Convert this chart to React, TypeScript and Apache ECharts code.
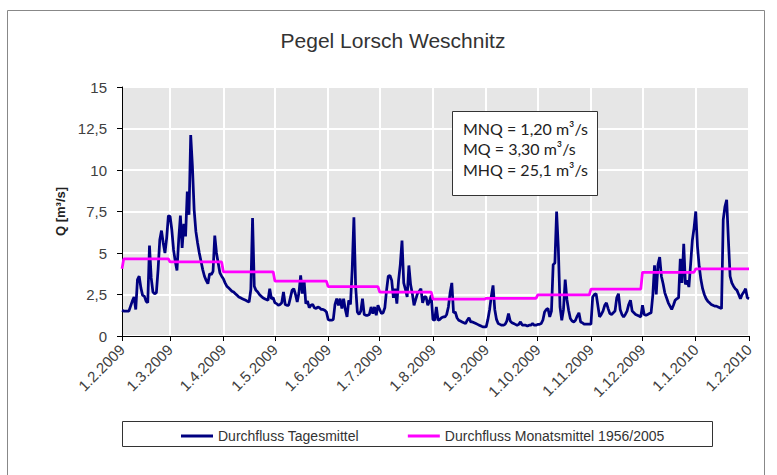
import React, { useEffect, useRef } from "react";
import * as echarts from "echarts";

// Daily discharge (Durchfluss Tagesmittel), m³/s, one value per day
const feb09 = [1.55, 1.5, 1.5, 1.5, 1.5, 1.8, 2.1, 2.35, 1.6, 3.4, 3.6, 2.9, 2.45, 2.4, 2.1, 2.0, 5.45, 3.5, 2.65, 2.55, 2.6, 4.0, 5.8, 6.35, 5.6, 5.0, 5.9, 7.25];
const mar09 = [7.2, 6.4, 5.2, 4.5, 3.95, 5.8, 7.25, 5.3, 6.75, 6.0, 8.7, 7.3, 12.1, 10.2, 7.6, 6.3, 5.6, 5.0, 4.5, 4.0, 3.6, 3.35, 3.15, 3.75, 3.7, 3.9, 6.05, 5.0, 4.4, 3.8, 3.6];
const apr09 = [3.45, 3.2, 3.0, 2.9, 2.8, 2.7, 2.65, 2.55, 2.45, 2.35, 2.3, 2.25, 2.2, 2.15, 2.1, 2.05, 2.8, 7.1, 3.0, 2.75, 2.65, 2.5, 2.4, 2.3, 2.25, 2.2, 2.15, 2.85, 2.25, 2.3];
const may09 = [2.0, 1.95, 1.85, 1.9, 2.0, 2.65, 1.9, 1.85, 1.85, 2.3, 2.75, 2.85, 2.5, 2.05, 2.6, 3.65, 2.55, 3.35, 1.95, 2.1, 1.7, 1.85, 1.9, 1.7, 1.65, 1.75, 1.7, 1.6, 1.6, 1.55, 1.45];
const jun09 = [1.0, 0.95, 0.95, 1.0, 1.9, 2.25, 1.85, 2.25, 1.65, 2.25, 1.6, 1.15, 2.15, 1.9, 4.0, 7.15, 3.0, 1.45, 1.3, 1.5, 2.25, 1.3, 1.25, 1.25, 1.3, 1.75, 1.35, 1.75, 1.25, 1.85];
const jul09 = [1.6, 1.35, 1.4, 1.7, 2.75, 3.6, 3.65, 3.35, 2.3, 2.85, 1.95, 3.35, 4.3, 5.75, 3.2, 2.8, 2.35, 4.25, 3.1, 2.55, 1.85, 2.2, 2.55, 2.7, 2.85, 2.0, 2.35, 2.35, 1.85, 2.1, 2.45];
const aug09 = [1.0, 0.95, 1.75, 0.95, 1.0, 1.1, 1.15, 1.15, 1.3, 1.75, 2.6, 3.2, 1.4, 1.45, 1.1, 0.95, 0.9, 0.85, 0.8, 0.75, 0.95, 1.1, 0.85, 0.85, 0.8, 0.75, 0.7, 0.65, 0.6, 0.55, 0.55];
const sep09 = [0.55, 1.0, 1.6, 2.4, 3.05, 1.6, 1.0, 0.75, 0.7, 0.65, 0.65, 0.7, 0.9, 1.35, 0.9, 0.8, 0.75, 0.7, 0.65, 0.7, 0.85, 0.65, 0.65, 0.65, 0.6, 0.65, 0.65, 0.75, 0.65, 0.65];
const oct09 = [0.7, 0.7, 0.75, 0.95, 1.45, 1.6, 1.65, 1.15, 1.5, 4.3, 4.4, 7.5, 5.3, 1.75, 0.95, 1.6, 3.4, 2.2, 1.55, 1.05, 0.9, 0.85, 0.95, 1.2, 1.4, 0.85, 0.8, 0.72, 0.72, 0.72, 0.72];
const nov09 = [0.72, 2.35, 2.5, 2.55, 1.85, 1.15, 1.3, 1.5, 1.85, 2.0, 1.65, 1.35, 1.3, 1.4, 1.5, 2.3, 2.55, 1.6, 1.3, 1.15, 1.3, 1.5, 1.9, 2.15, 1.5, 1.4, 1.3, 1.25, 1.2, 1.15];
const dec09 = [1.85, 1.3, 1.25, 1.3, 1.35, 1.4, 2.45, 4.25, 2.5, 4.3, 4.75, 3.6, 3.15, 2.6, 2.3, 2.0, 1.8, 1.6, 1.85, 2.15, 2.25, 2.3, 4.65, 3.2, 5.55, 3.1, 3.35, 2.95, 4.3, 5.75, 6.5];
const jan10 = [7.5, 5.4, 4.2, 3.4, 2.85, 2.5, 2.25, 2.1, 2.0, 1.9, 1.85, 1.8, 1.8, 1.75, 1.7, 1.65, 7.0, 7.8, 8.2, 5.8, 3.6, 3.2, 3.0, 2.85, 2.75, 2.5, 2.25, 2.5, 2.65, 2.85, 2.3];
const feb10 = [2.25];

// Long-term monthly mean 1956/2005 (Feb..Jan), m³/s
const monthlyMean = [4.64, 4.46, 3.87, 3.31, 2.97, 2.65, 2.22, 2.27, 2.47, 2.82, 3.84, 4.05];
const janMean = 4.05;

const yTicks = [0, 2.5, 5, 7.5, 10, 12.5, 15];
const title = "Pegel Lorsch Weschnitz";
const seriesNames = ["Durchfluss Tagesmittel", "Durchfluss Monatsmittel 1956/2005"];
const infoLines = ["MNQ = 1,20 m³/s", "MQ = 3,30 m³/s", "MHQ = 25,1 m³/s"];

const months = [feb09, mar09, apr09, may09, jun09, jul09, aug09, sep09, oct09, nov09, dec09, jan10];
const daily = [...months.flat(), ...feb10];

const dates: string[] = [];
{
  const d = new Date(2009, 1, 1);
  for (let i = 0; i < daily.length; i++) {
    dates.push(`${d.getDate()}.${d.getMonth() + 1}.${d.getFullYear()}`);
    d.setDate(d.getDate() + 1);
  }
}
const meanDaily: number[] = [];
months.forEach((m, mi) => m.forEach(() => meanDaily.push(monthlyMean[mi])));
meanDaily[0] = janMean;
meanDaily.push(janMean);

const isMonthStart = (_i: number, v: string) => v.startsWith("1.");
const FONT = "'Liberation Sans', Arial, sans-serif";

export default function App() {
  const ref = useRef<HTMLDivElement>(null);
  useEffect(() => {
    if (!ref.current) return;
    const chart = echarts.init(ref.current, null, { renderer: "svg" });
    chart.setOption({
      animation: false,
      backgroundColor: "#fff",
      textStyle: { fontFamily: FONT },
      grid: {
        left: 122, right: 28, top: 87, bottom: 139,
        show: true, backgroundColor: "#E6E6E6", borderWidth: 0,
      },
      legend: {
        left: 176, top: 424, itemWidth: 32, itemHeight: 3, itemGap: 49, icon: "rect",
        textStyle: { fontSize: 14, color: "#333", fontFamily: FONT },
        data: seriesNames,
      },
      xAxis: {
        type: "category", data: dates, boundaryGap: false,
        axisLine: { lineStyle: { color: "#000", width: 1 } },
        axisTick: { show: true, interval: isMonthStart, length: 5, lineStyle: { color: "#000" } },
        axisLabel: { interval: isMonthStart, rotate: 45, fontSize: 15, color: "#404040", margin: 11, fontFamily: FONT },
        splitLine: { show: true, interval: isMonthStart, lineStyle: { color: "#fff", width: 2 } },
      },
      yAxis: {
        type: "value", min: yTicks[0], max: yTicks[yTicks.length - 1], interval: 2.5,
        name: "Q [m³/s]", nameLocation: "middle", nameGap: 52,
        nameTextStyle: { fontWeight: "bold", fontSize: 13, color: "#222", fontFamily: FONT },
        axisLine: { show: true, lineStyle: { color: "#000", width: 1 } },
        axisTick: { show: true, length: 5, lineStyle: { color: "#000" } },
        axisLabel: { formatter: (v: number) => String(v).replace(".", ","), fontSize: 15, color: "#404040", margin: 15, fontFamily: FONT },
        splitLine: { lineStyle: { color: "#fff", width: 2 } },
      },
      series: [
        { name: seriesNames[0], type: "line", data: daily, symbol: "none", color: "#000080", lineStyle: { width: 2.75, color: "#000080" }, z: 2 },
        { name: seriesNames[1], type: "line", data: meanDaily, symbol: "none", color: "#FF00FF", lineStyle: { width: 2.75, color: "#FF00FF" }, z: 3 },
      ],
      graphic: [
        { type: "rect", shape: { x: 7.5, y: 10.5, width: 757, height: 480 }, style: { fill: "none", stroke: "#888", lineWidth: 1 }, z: -1, silent: true },
        { type: "text", x: 393, y: 40, style: { text: title, fontSize: 21, fontFamily: FONT, fill: "#333", textAlign: "center", textVerticalAlign: "middle" } },
        { type: "rect", shape: { x: 122.5, y: 421.5, width: 590, height: 25 }, style: { fill: "none", stroke: "#333", lineWidth: 1 } },
        { type: "rect", shape: { x: 452.5, y: 111.5, width: 145, height: 84 }, style: { fill: "#fff", stroke: "#333", lineWidth: 1 }, z: 10 },
        ...infoLines.map((t, i) => ({
          type: "text", x: 463, y: 128 + i * 20.5, z: 11,
          style: { text: t, fontSize: 16, fontFamily: "Lato, 'Open Sans', sans-serif", fill: "#222", textVerticalAlign: "middle" },
        })),
      ],
    });
    return () => chart.dispose();
  }, []);
  return <div ref={ref} style={{ position: "absolute", left: 0, top: 0, width: 777, height: 475 }} />;
}
